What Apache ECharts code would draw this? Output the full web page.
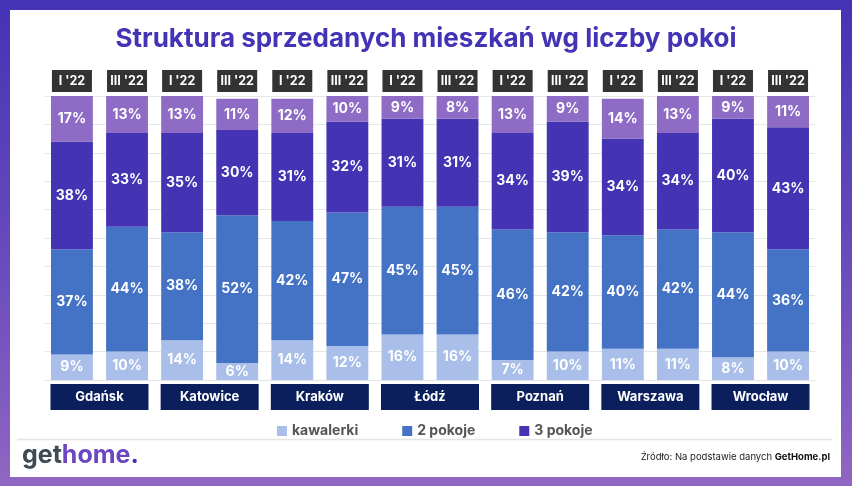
<!DOCTYPE html>
<html>
<head>
<meta charset="utf-8">
<script src="https://cdn.jsdelivr.net/npm/echarts@6/dist/echarts.min.js"></script>
<style>
html,body{margin:0;padding:0;width:852px;height:486px;overflow:hidden;}
body{background:linear-gradient(180deg,#4433b5 0%,#6a4cbc 55%,#9066c2 100%);position:relative;}
#card{position:absolute;left:10px;top:10px;width:831px;height:467px;background:#fff;}
#chart{position:absolute;left:0;top:0;width:852px;height:486px;}
</style>
</head>
<body>
<div id="card"></div>
<div id="chart"></div>
<script>
const periods = ["I '22","III '22","I '22","III '22","I '22","III '22","I '22","III '22","I '22","III '22","I '22","III '22","I '22","III '22"];
const cities = ["Gdańsk","Katowice","Kraków","Łódź","Poznań","Warszawa","Wrocław"];
const kawalerki = [9,10,14,6,14,12,16,16,7,10,11,11,8,10];
const pokoje2   = [37,44,38,52,42,47,45,45,46,42,40,42,44,36];
const pokoje3   = [38,33,35,30,31,32,31,31,34,39,34,34,40,43];
const pokoje4   = [17,13,13,11,12,10,9,8,13,9,14,13,9,11];
const yTicks = [0,10,20,30,40,50,60,70,80,90,100];

const FONT = 'Inter, "Noto Sans", sans-serif';
const chart = echarts.init(document.getElementById('chart'), null, {renderer:'canvas'});

function seg(name, data, color){
  return {
    name: name, type: 'bar', stack: 'a', data: data, xAxisIndex: 0,
    barWidth: '76%', itemStyle: {color: color},
    label: {show: true, position: 'inside', formatter: '{c}%', color: '#fff',
            fontSize: 14, fontWeight: 'bold', fontFamily: FONT},
    emphasis: {disabled: true}
  };
}

chart.setOption({
  animation: false,
  backgroundColor: 'transparent',
  title: {
    text: 'Struktura sprzedanych mieszkań wg liczby pokoi',
    left: 'center', top: 21,
    textStyle: {color: '#4433b5', fontSize: 26, fontWeight: 'bold', fontFamily: FONT}
  },
  legend: {
    data: ['kawalerki','2 pokoje','3 pokoje'],
    left: 272, top: 419, itemWidth: 10, itemHeight: 10, itemGap: 44,
    icon: 'rect',
    textStyle: {color: '#555', fontSize: 14, fontWeight: 'bold', fontFamily: FONT}
  },
  grid: {left: 44.4, right: 36.4, top: 96, bottom: 106},
  xAxis: [
    {type: 'category', data: periods, position: 'top',
     axisLine: {show: false}, axisTick: {show: false},
     axisLabel: {margin: 4, color: '#fff', backgroundColor: '#333333', width: 40, height: 22,
                 lineHeight: 22, align: 'center', fontSize: 12.5, fontWeight: 'bold', fontFamily: FONT, interval: 0}},
    {type: 'category', data: cities, position: 'bottom', gridIndex: 0,
     axisLine: {show: false}, axisTick: {show: false},
     axisLabel: {margin: 4, color: '#fff', backgroundColor: '#0b1f5c', width: 98, height: 26,
                 lineHeight: 26, align: 'center', fontSize: 13, fontWeight: 'bold', fontFamily: FONT, interval: 0}}
  ],
  yAxis: {type: 'value', min: yTicks[0], max: yTicks[yTicks.length-1], interval: 10,
          axisLabel: {show: false}, axisLine: {show: false}, axisTick: {show: false},
          splitLine: {lineStyle: {color: '#e6e6e6', width: 1}}},
  series: [
    seg('kawalerki', kawalerki, '#a9bee8'),
    seg('2 pokoje', pokoje2, '#4472c4'),
    seg('3 pokoje', pokoje3, '#4433b3'),
    seg('4+ pokoje', pokoje4, '#8e6cc6')
  ],
  graphic: [
    {type: 'line', shape: {x1: 17, y1: 439.5, x2: 832, y2: 439.5}, style: {stroke: '#e4e4e4', lineWidth: 1.5}},
    {type: 'text', left: 22, top: 443,
     style: {text: '{g|get}{h|home}{d|.}', rich: {
       g: {fill: '#3e4a54', fontSize: 25, fontWeight: 'bold', fontFamily: FONT},
       h: {fill: '#6b46c0', fontSize: 25, fontWeight: 'bold', fontFamily: FONT},
       d: {fill: '#4433b5', fontSize: 25, fontWeight: 'bold', fontFamily: FONT}}}},
    {type: 'text', right: 22, top: 452,
     style: {text: '{r|Źródło: Na podstawie danych }{b|GetHome.pl}', rich: {
       r: {fill: '#222', fontSize: 9.5, fontFamily: FONT},
       b: {fill: '#111', fontSize: 9.5, fontWeight: 'bold', fontFamily: FONT}}}}
  ]
});
</script>
</body>
</html>
